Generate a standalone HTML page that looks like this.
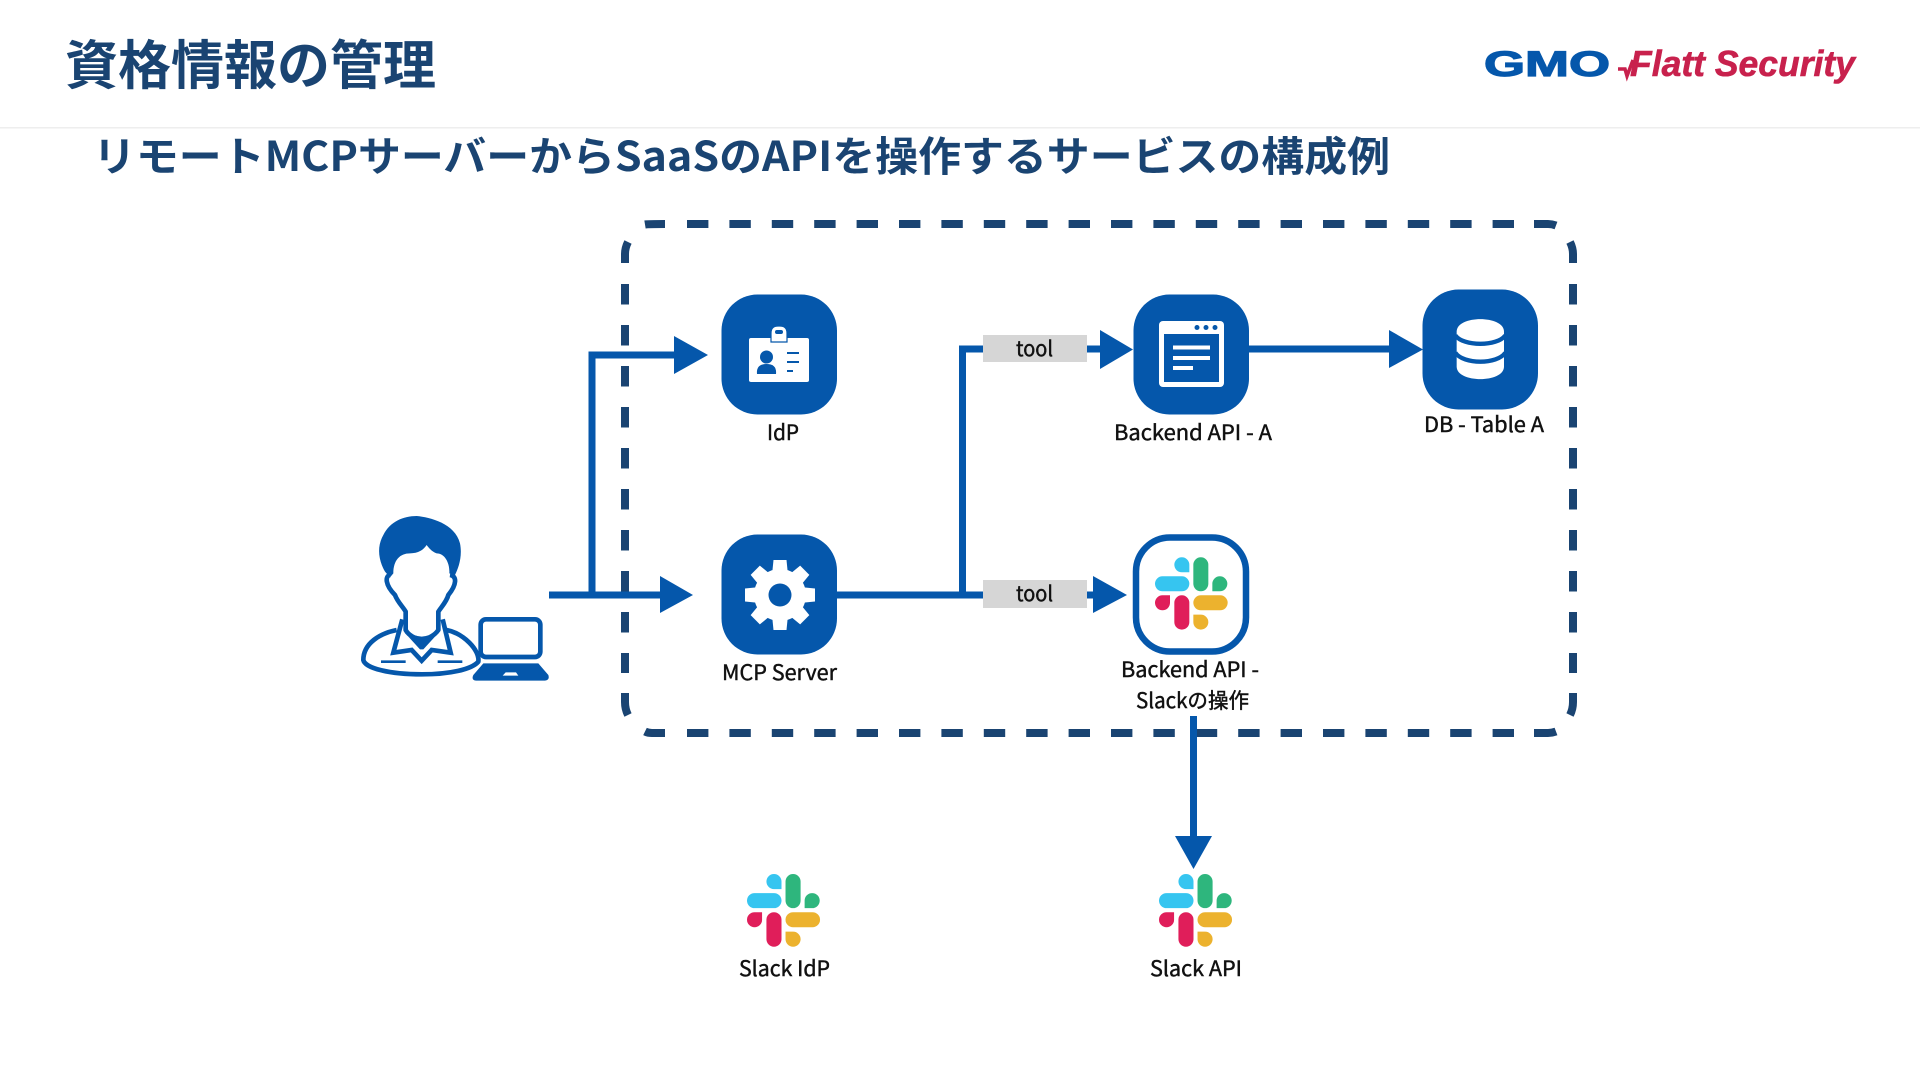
<!DOCTYPE html>
<html lang="ja"><head><meta charset="utf-8"><title>資格情報の管理</title>
<style>
html,body{margin:0;padding:0;background:#fff;width:1920px;height:1080px;overflow:hidden}
svg{display:block}
text{font-family:"Liberation Sans","Noto Sans CJK JP",sans-serif}
.jp{font-family:"Noto Sans CJK JP","Liberation Sans",sans-serif;font-weight:700}
.h{fill:#1a4472}
.l{font-family:"Noto Sans CJK JP","Liberation Sans",sans-serif;font-size:21px;font-weight:400;fill:#111;stroke:#111;stroke-width:.45px;text-anchor:start}
</style></head><body>
<svg width="1920" height="1080" viewBox="0 0 1920 1080" xmlns="http://www.w3.org/2000/svg">
<defs>
<g id="slack">
<path fill="#36c5f0" d="M103,45H80.5A22.5,22.5 0 1 1 103,22.5Z"/>
<rect fill="#36c5f0" x="0" y="57" width="103" height="45" rx="22.5"/>
<rect fill="#2eb67d" x="115" y="0" width="45" height="102" rx="22.5"/>
<path fill="#2eb67d" d="M172,102V79.5A22.5,22.5 0 1 1 194.5,102Z"/>
<path fill="#e01e5a" d="M45,114V136.5A22.5,22.5 0 1 1 22.5,114Z"/>
<rect fill="#e01e5a" x="58" y="114" width="45" height="103" rx="22.5"/>
<rect fill="#ecb22e" x="115" y="114" width="103" height="45" rx="22.5"/>
<path fill="#ecb22e" d="M115,172H137.5A22.5,22.5 0 1 1 115,194.5Z"/>
</g>
</defs>
<rect width="1920" height="1080" fill="#fff"/>
<rect x="0" y="127" width="1920" height="1.5" fill="#eeeeee"/>

<text class="jp h" x="65" y="84" font-size="53" textLength="371" lengthAdjust="spacingAndGlyphs">資格情報の管理</text>
<text class="jp h" x="93" y="171" font-size="41" textLength="1297" lengthAdjust="spacingAndGlyphs">リモートMCPサーバーからSaaSのAPIを操作するサービスの構成例</text>

<!-- logo -->
<text x="1484" y="76" font-size="35" font-weight="700" fill="#0557ab" stroke="#0557ab" stroke-width="1.2" textLength="126" lengthAdjust="spacingAndGlyphs">GMO</text>
<path d="M1618,69L1625,69L1627,76L1633,60" fill="none" stroke="#c8214d" stroke-width="3.5"/>
<text x="1630" y="76" font-size="36" font-weight="700" font-style="italic" fill="#c8214d" stroke="#c8214d" stroke-width=".6" textLength="225" lengthAdjust="spacingAndGlyphs">Flatt Security</text>

<!-- dashed boundary -->
<g fill="none" stroke="#1a4472" stroke-width="8">
<path d="M645,224.5Q648,224 665,224"/>
<path d="M687,224H1534" stroke-dasharray="21.4 21"/>
<path d="M1534,224H1548Q1552,224 1556,225.5"/>
<path d="M1570,242Q1573,248 1573,254V263"/>
<path d="M1573,284V673" stroke-dasharray="20.5 20.5"/>
<path d="M1573,693V702Q1573,709 1570,715"/>
<path d="M1556,731.5Q1552,733 1548,733H1534"/>
<path d="M687,733H1534" stroke-dasharray="21.4 21"/>
<path d="M665,733H652Q648,733 645,731.5"/>
<path d="M628,715Q625,709 625,702V693"/>
<path d="M625,284V673" stroke-dasharray="20.5 20.5"/>
<path d="M625,263V254Q625,248 628,242"/>
</g>

<!-- connectors -->
<g fill="none" stroke="#0557ab" stroke-width="7">
<path d="M549,595H662"/>
<path d="M592,595V355H676"/>
<path d="M837,595H984"/>
<path d="M962.5,595V349H984"/>
<path d="M1086,349H1103"/>
<path d="M1086,595H1095"/>
<path d="M1249,349H1391"/>
<path d="M1193.5,716V838"/>
</g>
<g fill="#0557ab">
<path d="M660,576L693,595L660,613Z"/>
<path d="M674,336L708,355L674,374Z"/>
<path d="M1100,330L1133,349.5L1100,369Z"/>
<path d="M1093,576L1127,595L1093,613Z"/>
<path d="M1389,330L1423,349.5L1389,368Z"/>
<path d="M1175,836L1212,836L1193.5,869Z"/>
</g>
<rect x="983" y="335" width="104" height="27" fill="#d6d6d6"/>
<rect x="983" y="580" width="104" height="28" fill="#d6d6d6"/>
<text class="l" x="1016" y="356" textLength="37" lengthAdjust="spacingAndGlyphs">tool</text>
<text class="l" x="1016" y="601" textLength="37" lengthAdjust="spacingAndGlyphs">tool</text>

<!-- user icon -->
<g transform="translate(340,490) scale(0.33333)">
<path fill="#0557ab" d="M135,245C115,210 110,170 130,135C150,95 190,78 230,78C270,82 345,100 360,160C368,200 355,235 345,255L328,250C330,220 315,190 290,190C275,185 265,172 260,165C250,180 235,190 210,190C180,190 160,210 160,250L150,262Z"/>
<path fill="none" stroke="#0557ab" stroke-width="14" stroke-linejoin="round" d="M150,255C135,258 135,285 165,315C172,335 190,352 197,365V420C205,435 225,447 245,447C265,447 285,435 295,420V365C303,352 320,335 325,315C350,285 352,258 330,255"/>
<path fill="none" stroke="#0557ab" stroke-width="14" stroke-linejoin="round" d="M170,420C120,430 70,460 70,510C75,535 150,553 245,553C330,553 395,538 415,515C420,480 370,430 320,420"/>
<path fill="none" stroke="#0557ab" stroke-width="14" stroke-linejoin="miter" d="M187,388L160,488L215,480L245,512L275,480L332,488L308,388"/>
<path fill="#0557ab" d="M205,440C220,450 270,450 285,440L250,478H240Z"/>
<path fill="none" stroke="#0557ab" stroke-width="8" d="M123,515H197M293,515H367"/>
<rect x="422" y="388" width="179" height="113" rx="16" fill="#fff" stroke="#0557ab" stroke-width="14"/>
<path fill="#0557ab" d="M430,520H595L625,555Q630,570 615,572H408Q393,570 400,555Z"/>
<path fill="#fff" d="M497,547H528L535,557H488Z"/>
</g>

<!-- IdP -->
<rect x="721.5" y="294.5" width="115.5" height="120" rx="36" fill="#0557ab"/>
<rect x="749" y="338" width="60" height="44" rx="2" fill="#fff"/>
<path d="M771,342V333Q771,326 778,326H780Q787,326 787,333V342Z" fill="#fff" stroke="#0557ab" stroke-width="1.2"/>
<rect x="775" y="330" width="8" height="4" rx="2" fill="#0557ab"/>
<circle cx="766.5" cy="357" r="6.5" fill="#0557ab"/>
<path d="M757,374Q756,364 766.5,364Q777,364 776,374Z" fill="#0557ab"/>
<path d="M787,353H799M787,362H799M787,371H793" stroke="#0557ab" stroke-width="2" fill="none"/>
<text class="l" x="767" y="440" textLength="32" lengthAdjust="spacingAndGlyphs">IdP</text>

<!-- MCP Server -->
<rect x="721.5" y="534.5" width="115.5" height="120" rx="36" fill="#0557ab"/>
<g transform="translate(780,595)" fill="#fff">
<path d="M-6.5,-35H6.5L8,-20H-8Z" id="t"/>
<path d="M-6.5,-35H6.5L8,-20H-8Z" transform="rotate(45)"/>
<path d="M-6.5,-35H6.5L8,-20H-8Z" transform="rotate(90)"/>
<path d="M-6.5,-35H6.5L8,-20H-8Z" transform="rotate(135)"/>
<path d="M-6.5,-35H6.5L8,-20H-8Z" transform="rotate(180)"/>
<path d="M-6.5,-35H6.5L8,-20H-8Z" transform="rotate(225)"/>
<path d="M-6.5,-35H6.5L8,-20H-8Z" transform="rotate(270)"/>
<path d="M-6.5,-35H6.5L8,-20H-8Z" transform="rotate(315)"/>
<circle r="26"/>
<circle r="11.5" fill="#0557ab"/>
</g>
<text class="l" x="722" y="680" textLength="115" lengthAdjust="spacingAndGlyphs">MCP Server</text>

<!-- Backend API - A -->
<rect x="1133.5" y="294.5" width="115.5" height="120" rx="36" fill="#0557ab"/>
<rect x="1159" y="321" width="65" height="66" rx="4" fill="#fff"/>
<rect x="1164" y="334" width="55" height="48" fill="#0557ab"/>
<circle cx="1197" cy="327.5" r="2.5" fill="#0557ab"/><circle cx="1206" cy="327.5" r="2.5" fill="#0557ab"/><circle cx="1215" cy="327.5" r="2.5" fill="#0557ab"/>
<path d="M1173,347.5H1210M1173,358H1210M1173,368H1193" stroke="#fff" stroke-width="4" fill="none"/>
<text class="l" x="1114" y="440" textLength="158" lengthAdjust="spacingAndGlyphs">Backend API - A</text>

<!-- DB -->
<rect x="1422.5" y="289.5" width="115.5" height="120" rx="36" fill="#0557ab"/>
<g transform="translate(1100,270) scale(0.33333)">
<path fill="#fff" d="M1070,185C1070,135 1212,135 1212,185V290C1212,340 1070,340 1070,290Z"/>
<path fill="none" stroke="#0557ab" stroke-width="13" d="M1066,196C1090,230 1192,230 1216,196M1066,248C1090,284 1192,284 1216,248"/>
</g>
<text class="l" x="1424" y="432" textLength="120" lengthAdjust="spacingAndGlyphs">DB - Table A</text>

<!-- Backend Slack -->
<rect x="1136" y="537.5" width="110" height="114" rx="34" fill="#fff" stroke="#0557ab" stroke-width="6.5"/>
<use href="#slack" transform="translate(1155,557.3) scale(0.33333)"/>
<text class="l" x="1121" y="677" textLength="138" lengthAdjust="spacingAndGlyphs">Backend API -</text>
<text class="l" x="1136" y="708" textLength="113" lengthAdjust="spacingAndGlyphs">Slackの操作</text>

<!-- Slack -->
<use href="#slack" transform="translate(747,874) scale(0.335)"/>
<use href="#slack" transform="translate(1159,874) scale(0.335)"/>
<text class="l" x="739" y="976" textLength="91" lengthAdjust="spacingAndGlyphs">Slack IdP</text>
<text class="l" x="1150" y="976" textLength="92" lengthAdjust="spacingAndGlyphs">Slack API</text>
</svg>
</body></html>
